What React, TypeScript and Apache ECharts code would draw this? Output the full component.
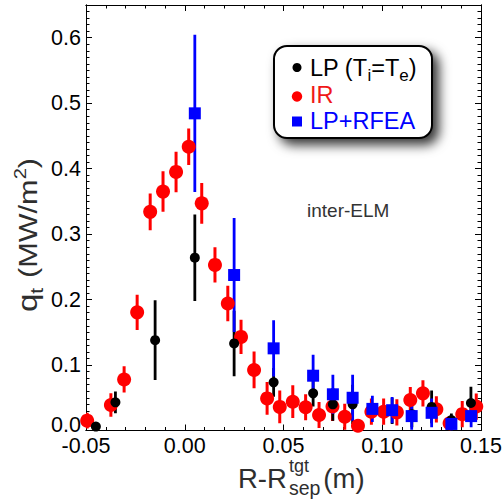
import { useEffect, useRef } from 'react';
import * as echarts from 'echarts';

// ---- data (R - R_sep in m, q_t in MW/m^2, error half-width) ----
const lpX = [-0.045, -0.0351, -0.015, 0.0051, 0.025, 0.045, 0.065, 0.075, 0.085, 0.105, 0.115, 0.125, 0.135, 0.1449];
const lpY = [0.006, 0.043, 0.138, 0.264, 0.133, 0.0736, 0.0568, 0.040, 0.040, 0.030, 0.025, 0.036, 0.016, 0.042];
const lpErr = [0.0, 0.0165, 0.061, 0.066, 0.05, 0.022, 0.02, 0.025, 0.03, 0.02, 0.02, 0.025, 0.01, 0.025];

const irX = [-0.0494, -0.0374, -0.0307, -0.0241, -0.0175, -0.011, -0.0044, 0.002, 0.0086, 0.0153, 0.0218, 0.0285, 0.0351, 0.0417, 0.0481, 0.0547, 0.0612, 0.068, 0.0748, 0.081, 0.0877, 0.0945, 0.1007, 0.1074, 0.1142, 0.1206, 0.1274, 0.1341, 0.1405, 0.1476];
const irY = [0.015, 0.039, 0.078, 0.1805, 0.334, 0.365, 0.395, 0.4335, 0.347, 0.253, 0.194, 0.143, 0.0925, 0.049, 0.036, 0.044, 0.0355, 0.0237, 0.0366, 0.021, 0.0073, 0.0287, 0.0287, 0.0277, 0.0466, 0.0568, 0.0324, 0.011, 0.025, 0.0366];
const irErr = [0.012, 0.018, 0.02, 0.027, 0.028, 0.031, 0.031, 0.028, 0.031, 0.027, 0.027, 0.026, 0.028, 0.025, 0.025, 0.025, 0.02, 0.02, 0.022, 0.02, 0.005, 0.02, 0.02, 0.02, 0.02, 0.02, 0.02, 0.01, 0.02, 0.02];

const rfX = [0.0051, 0.025, 0.045, 0.065, 0.075, 0.085, 0.095, 0.105, 0.1149, 0.125, 0.135, 0.145];
const rfY = [0.4845, 0.2375, 0.1255, 0.0837, 0.0553, 0.050, 0.033, 0.031, 0.022, 0.027, 0.010, 0.022];
const rfErr = [0.12, 0.087, 0.043, 0.032, 0.03, 0.035, 0.02, 0.02, 0.021, 0.022, 0.01, 0.017];

const xMin = -0.05, xMax = 0.15, xMajor = 0.05, xMinor = 0.01;
const yMin = 0, yMax = 0.65, yMajor = 0.1, yMinor = 0.01;

const RED = '#ff0000';
const BLUE = '#0000ff';
const BLACK = '#000000';
const TITLE = '#2e2e2e';
const FONT = '"Liberation Sans", Arial, Helvetica, sans-serif';

let mctx: CanvasRenderingContext2D | null = null;
function tw(t: string, size: number): number {
  if (!mctx) mctx = document.createElement('canvas').getContext('2d');
  if (!mctx) return t.length * size * 0.55;
  mctx.font = `${size}px ${FONT}`;
  return mctx.measureText(t).width;
}

function tx(text: string, x: number, base: number, size: number, fill: string) {
  return {
    type: 'text',
    x,
    y: base - 0.35 * size,
    silent: true,
    style: {
      text,
      font: `${size}px ${FONT}`,
      fill,
      align: 'left',
      verticalAlign: 'middle',
      textAlign: 'left',
      textVerticalAlign: 'middle',
    },
  };
}

type Part = { t: string; size: number; dy: number; gap?: number };
function runWidth(parts: Part[]) {
  return parts.reduce((s, p) => s + (p.gap ?? 0) + tw(p.t, p.size), 0);
}
function runs(parts: Part[], x0: number, base: number, fill: string) {
  let x = x0;
  const out: any[] = [];
  for (const p of parts) {
    x += p.gap ?? 0;
    out.push(tx(p.t, x, base + p.dy, p.size, fill));
    x += tw(p.t, p.size);
  }
  return out;
}

function zip(xs: number[], ys: number[], es: number[]) {
  return xs.map((x, i) => [x, ys[i], es[i]]);
}

function errSeries(name: string, data: number[][], color: string, width: number) {
  return {
    type: 'custom',
    name,
    data,
    xAxisIndex: 0,
    yAxisIndex: 0,
    silent: true,
    clip: true,
    encode: { x: 0, y: 1 },
    renderItem: (_p: any, api: any) => {
      const x = api.value(0);
      const y = api.value(1);
      const e = api.value(2);
      const a = api.coord([x, y - e]);
      const b = api.coord([x, y + e]);
      return {
        type: 'line',
        shape: { x1: a[0], y1: a[1], x2: b[0], y2: b[1] },
        style: { stroke: color, lineWidth: width },
      };
    },
  };
}

function ptSeries(name: string, data: number[][], color: string, symbol: string, size: number) {
  return {
    type: 'scatter',
    name,
    data,
    xAxisIndex: 0,
    yAxisIndex: 0,
    symbol,
    symbolSize: size,
    silent: true,
    clip: false,
    itemStyle: { color, opacity: 1 },
    emphasis: { disabled: true },
  };
}

function xAx(position: string, interval: number, len: number, labels: boolean) {
  return {
    type: 'value',
    position,
    min: xMin,
    max: xMax,
    interval,
    splitLine: { show: false },
    axisLine: { show: true, onZero: false, lineStyle: { color: '#000', width: 1 } },
    axisTick: { show: true, inside: true, length: len, lineStyle: { color: '#000', width: 1 } },
    minorTick: { show: false },
    axisLabel: labels
      ? {
          show: true,
          margin: 4,
          fontSize: 21.5,
          fontFamily: FONT,
          color: '#000',
          formatter: (v: number) => (Math.abs(v) < 1e-9 ? '0.00' : v.toFixed(2)),
        }
      : { show: false },
  };
}

function yAx(position: string, interval: number, len: number, labels: boolean) {
  return {
    type: 'value',
    position,
    min: yMin,
    max: yMax,
    interval,
    splitLine: { show: false },
    axisLine: { show: true, onZero: false, lineStyle: { color: '#000', width: 1 } },
    axisTick: { show: true, inside: true, length: len, lineStyle: { color: '#000', width: 1 } },
    minorTick: { show: false },
    axisLabel: labels
      ? {
          show: true,
          margin: 5,
          fontSize: 21.5,
          fontFamily: FONT,
          color: '#000',
          rich: { z: { fontSize: 21.5, fontFamily: FONT, color: '#000', padding: [0, 0, 11, 0] } },
          formatter: (v: number) => {
            if (Math.abs(v * 10 - Math.round(v * 10)) > 1e-6) return '';
            if (Math.abs(v) < 1e-9) return '{z|0.0}';
            return v.toFixed(1);
          },
        }
      : { show: false },
  };
}

export default function App() {
  const ref = useRef<HTMLDivElement>(null);

  useEffect(() => {
    if (!ref.current) return;
    const chart = echarts.init(ref.current, undefined, { renderer: 'svg' });

    // legend
    const legendParts = [
      {
        type: 'rect',
        shape: { x: 274, y: 46, width: 158, height: 92, r: 13 },
        style: {
          fill: '#ffffff',
          stroke: '#000',
          lineWidth: 2,
          shadowBlur: 12,
          shadowOffsetX: 6,
          shadowOffsetY: 6,
          shadowColor: 'rgba(0,0,0,0.8)',
        },
        silent: true,
      },
      { type: 'circle', shape: { cx: 297, cy: 67.5, r: 4.5 }, style: { fill: BLACK }, silent: true },
      { type: 'circle', shape: { cx: 297, cy: 96.5, r: 5.2 }, style: { fill: RED }, silent: true },
      { type: 'rect', shape: { x: 292, y: 116.5, width: 10, height: 10 }, style: { fill: BLUE }, silent: true },
      ...runs(
        [
          { t: 'LP (T', size: 23.5, dy: 0 },
          { t: 'i', size: 17, dy: 5 },
          { t: '=T', size: 23.5, dy: 0 },
          { t: 'e', size: 17, dy: 5 },
          { t: ')', size: 23.5, dy: 0 },
        ],
        310,
        76,
        '#000'
      ),
      tx('IR', 310, 103.3, 23.5, '#f01818'),
      tx('LP+RFEA', 310, 129.3, 23.5, BLUE),
    ];

    // x title
    const rrW = tw('R-R', 27.5);
    const xT0 = 238;
    const supX = xT0 + rrW + 2;
    const subW = Math.max(tw('tgt', 18), tw('sep', 19.5));
    const xTitle = [
      tx('R-R', xT0, 488, 27.5, TITLE),
      tx('tgt', supX, 472, 18, TITLE),
      tx('sep', supX, 495, 19.5, TITLE),
      tx('(m)', supX + subW + 3, 488, 27.5, TITLE),
    ];

    // y title (rotated, slightly stretched along reading direction like the reference)
    const yParts: Part[] = [
      { t: 'q', size: 28, dy: 0 },
      { t: 't', size: 18, dy: 6 },
      { t: ' (MW/m', size: 26, dy: 0, gap: 1 },
      { t: '2', size: 17, dy: -11 },
      { t: ')', size: 26, dy: 0 },
    ];
    const yLen = runWidth(yParts);
    const yTitle = {
      type: 'group',
      x: 37,
      y: 312,
      rotation: Math.PI / 2,
      scaleX: 154 / yLen,
      silent: true,
      children: runs(yParts, 0, 0, TITLE),
    };

    const option: any = {
      animation: false,
      backgroundColor: '#ffffff',
      grid: { left: 86, right: 23, top: 5, bottom: 72.5, outerBoundsMode: 'none', containLabel: false },
      xAxis: [
        xAx('bottom', xMajor, 6, true),
        xAx('bottom', xMinor, 3.5, false),
        xAx('top', xMajor, 6, false),
        xAx('top', xMinor, 3.5, false),
      ],
      yAxis: [
        yAx('left', yMajor, 6, true),
        yAx('left', yMinor, 3.5, false),
        yAx('right', yMajor, 6, false),
        yAx('right', yMinor, 3.5, false),
      ],
      series: [
        errSeries('IR err', zip(irX, irY, irErr), RED, 3),
        ptSeries('IR', zip(irX, irY, irErr), RED, 'circle', 14),
        errSeries('LP err', zip(lpX, lpY, lpErr), BLACK, 2.8),
        ptSeries('LP (Ti=Te)', zip(lpX, lpY, lpErr), BLACK, 'circle', 10),
        errSeries('LP+RFEA err', zip(rfX, rfY, rfErr), BLUE, 2.8),
        ptSeries('LP+RFEA', zip(rfX, rfY, rfErr), BLUE, 'rect', 12),
      ],
      graphic: [
        tx('inter-ELM', 307, 217, 19, '#333'),
        ...legendParts,
        ...xTitle,
        yTitle,
      ],
    };

    chart.setOption(option);
    return () => chart.dispose();
  }, []);

  return <div ref={ref} style={{ width: 504, height: 503, position: 'absolute', left: 0, top: 0 }} />;
}
